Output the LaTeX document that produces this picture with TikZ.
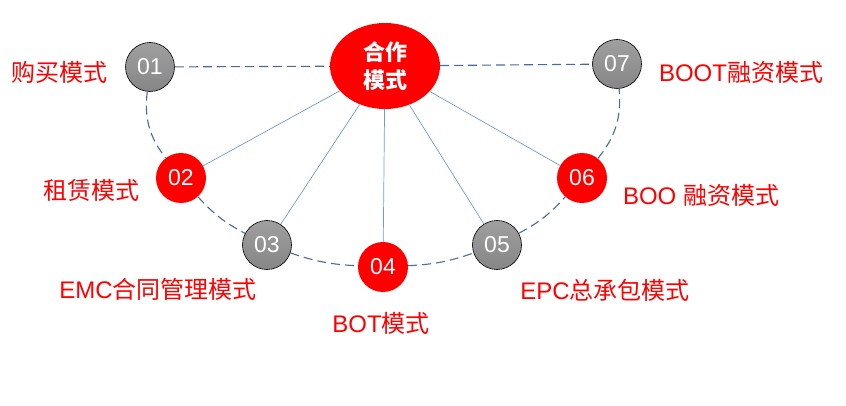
\documentclass[tikz,border=0pt]{standalone}
\usepackage{fontspec}
\usetikzlibrary{shapes.geometric}
\setmainfont{Liberation Sans}
\newfontfamily\cjk{Noto Sans CJK SC}
\definecolor{arcc}{HTML}{4A6B9E}
\definecolor{spk}{HTML}{6F9BD6}
\begin{document}
\begin{tikzpicture}[x=1pt,y=-1pt,
  numgray/.style={circle,draw=black,line width=0.6pt,top color=gray!75,bottom color=gray!105!black,
    minimum size=49pt,inner sep=0pt,text=white,font=\fontsize{23}{23}\selectfont},
  numred/.style={circle,fill=red,minimum size=50pt,inner sep=0pt,text=white,font=\fontsize{23}{23}\selectfont},
  lbl/.style={text=red,inner sep=0pt,font=\fontsize{24}{24}\selectfont},
  arcline/.style={draw=arcc,line width=1.1pt,dash pattern=on 9pt off 5pt},
  spoke/.style={draw=spk,line width=0.7pt}]
\useasboundingbox (0,0) rectangle (846,406);
\node[ellipse,fill=red,minimum width=110pt,minimum height=86pt,inner sep=0pt,text=white,align=center,
  font=\cjk\bfseries\fontsize{22}{28}\selectfont] (c) at (385,66) {合作\\模式};
\node[numgray] (n1) at (150,67) {01};
\node[numred]  (n2) at (181,178) {02};
\node[numgray] (n3) at (267,245) {03};
\node[numred]  (n4) at (383,267) {04};
\node[numgray] (n5) at (497,245) {05};
\node[numred]  (n6) at (582,178) {06};
\node[numgray] (n7) at (617,64) {07};
\node[lbl] (l1) at (60,72) {\cjk 购买模式};
\node[lbl] (l2) at (91,190) {\cjk 租赁模式};
\node[lbl] (l3) at (158,289) {EMC{\cjk 合同管理模式}};
\node[lbl] (l4) at (381,323) {BOT{\cjk 模式}};
\node[lbl] (l5) at (605,290) {EPC{\cjk 总承包模式}};
\node[lbl] (l6) at (701,195) {BOO {\cjk 融资模式}};
\node[lbl] (l7) at (741,72) {BOOT{\cjk 融资模式}};
\draw[arcline] (n1) -- (c);
\draw[arcline] (c) -- (n7);
\draw[arcline] (n1) to[bend right=22] (n2);
\draw[arcline] (n2) to[bend right=10] (n3);
\draw[arcline] (n3) to[bend right=8] (n4);
\draw[arcline] (n4) to[bend right=8] (n5);
\draw[arcline] (n5) to[bend right=10] (n6);
\draw[arcline] (n6) to[bend right=22] (n7);
\draw[spoke] (c) -- (n2);
\draw[spoke] (c) -- (n3);
\draw[spoke] (c) -- (n4);
\draw[spoke] (c) -- (n5);
\draw[spoke] (c) -- (n6);
\end{tikzpicture}
\end{document}
